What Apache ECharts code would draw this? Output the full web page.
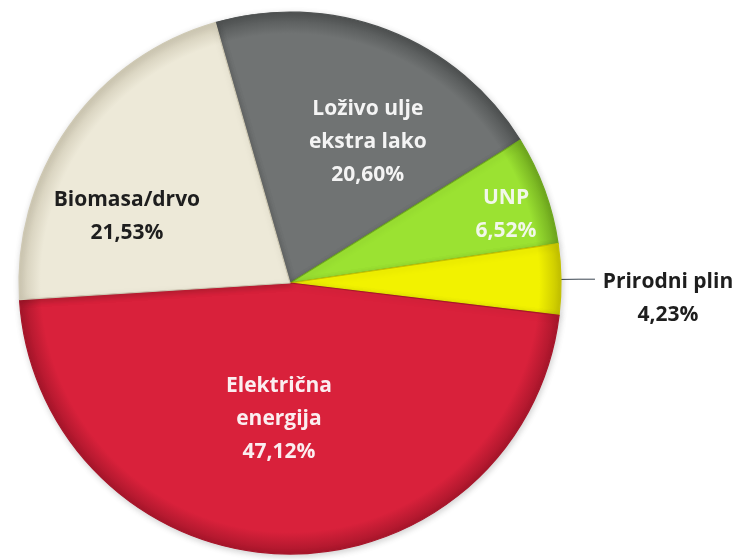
<!DOCTYPE html>
<html>
<head>
<meta charset="utf-8">
<title>Struktura potrošnje energenata</title>
<script src="https://cdn.jsdelivr.net/npm/echarts@6/dist/echarts.min.js"></script>
<style>
  html, body { margin: 0; padding: 0; background: #ffffff; }
  #chart { width: 745px; height: 560px; }
</style>
</head>
<body>
<div id="chart"></div>
<script>
// Energy source shares (percent)
const categories = ['Loživo ulje\nekstra lako', 'UNP', 'Prirodni plin', 'Električna\nenergija', 'Biomasa/drvo'];
const shares = [20.60, 6.52, 4.23, 47.12, 21.53];
const valueLabels = ['20,60%', '6,52%', '4,23%', '47,12%', '21,53%'];

// Slice styling
const fillColors = ['#707373', '#9be232', '#f2f200', '#d9213b', '#ede9d8'];
const rimColors  = ['#4f5252', '#6fa81e', '#c4c200', '#a8162b', '#cfc9b4'];
const textColors = ['#f4f4f4', '#f2f7ea', '#1e1e1e', '#fbeef0', '#1e1e1e'];
// Nudges of the inside labels from their default slot
const labelShift = [[28, -12], [86, -21], [0, 0], [-7, -2], [-50, 13]];

const CX = 290, CY = 283, R = 271;

function rimGradient(base, rim) {
  return {
    type: 'radial', x: CX, y: CY, r: R, global: true,
    colorStops: [
      { offset: 0, color: base },
      { offset: 0.92, color: base },
      { offset: 1, color: rim }
    ]
  };
}

const data = categories.map((name, i) => {
  const item = {
    name: name,
    value: shares[i],
    itemStyle: {
      color: rimGradient(fillColors[i], rimColors[i]),
      borderColor: rimColors[i],
      borderWidth: 1.2
    },
    label: {
      show: true,
      position: 'inside',
      color: textColors[i],
      formatter: name + '\n' + valueLabels[i]
    }
  };
  if (i === 2) {
    item.label = {
      show: true,
      position: 'outside',
      alignTo: 'none',
      color: textColors[i],
      padding: [38, 0, 0, 0],
      formatter: '{t|' + name + '}\n{t|' + valueLabels[i] + '}',
      rich: {
        t: {
          width: 136, align: 'center', color: textColors[i],
          fontFamily: 'Open Sans', fontWeight: 'bold', fontSize: 21, lineHeight: 33
        }
      }
    };
    item.labelLine = {
      show: true, length: 18, length2: 16,
      lineStyle: { color: '#3a4550', width: 1 }
    };
  }
  return item;
});

const chart = echarts.init(document.getElementById('chart'), null, { renderer: 'canvas' });
chart.setOption({
  animation: false,
  backgroundColor: '#ffffff',
  series: [{
    type: 'pie',
    center: [CX, CY],
    radius: R,
    startAngle: 106,
    clockwise: true,
    avoidLabelOverlap: false,
    silent: true,
    label: {
      fontFamily: 'Open Sans',
      fontWeight: 'bold',
      fontSize: 21,
      lineHeight: 33,
      align: 'center'
    },
    labelLine: { show: false },
    labelLayout: function (params) {
      const s = labelShift[params.dataIndex];
      if (params.dataIndex === 2) return {};
      return { dx: s[0], dy: s[1] };
    },
    itemStyle: {
      shadowBlur: 6,
      shadowColor: 'rgba(0,0,0,0.18)',
      shadowOffsetX: 1,
      shadowOffsetY: 2
    },
    data: data
  }]
});
</script>
</body>
</html>
